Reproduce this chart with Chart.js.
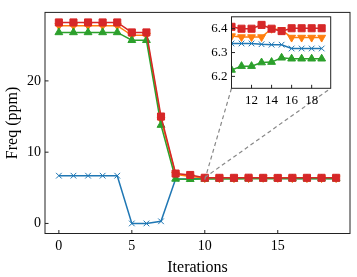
<!DOCTYPE html>
<html>
<head>
<meta charset="utf-8">
<script src="https://cdn.jsdelivr.net/npm/chart.js@4.4.1/dist/chart.umd.min.js"></script>
<style>
    html, body { margin: 0; padding: 0; background: #fff; }
    #wrap { position: relative; width: 357px; height: 277px; overflow: hidden; }
    #mainPlot { position: absolute; left: 0; top: 0; }
    #insetPlot { position: absolute; left: 190px; top: 5px; }
</style>
</head>
<body>
<div id="wrap">
    <canvas id="mainPlot" width="357" height="277"></canvas>
    <canvas id="insetPlot" width="150" height="105"></canvas>
</div>
<script>
// Data
var iterations = [0, 1, 2, 3, 4, 5, 6, 7, 8, 9, 10, 11, 12, 13, 14, 15, 16, 17, 18, 19];

var blueFreq   = [6.70, 6.70, 6.70, 6.70, 6.70, 0.00, 0.00, 0.30, 6.25, 6.25,
                  6.338, 6.338, 6.338, 6.335, 6.333, 6.333, 6.317, 6.317, 6.317, 6.317];
var orangeFreq = [27.75, 27.75, 27.75, 27.75, 27.75, 26.4, 26.4, 14.6, 6.9, 6.6,
                  6.369, 6.365, 6.365, 6.365, 6.400, 6.395, 6.363, 6.363, 6.363, 6.363];
var greenFreq  = [26.8, 26.8, 26.8, 26.8, 26.8, 25.7, 25.7, 13.8, 6.25, 6.2,
                  6.227, 6.243, 6.243, 6.258, 6.260, 6.278, 6.274, 6.274, 6.274, 6.274];
var redFreq    = [28.2, 28.2, 28.2, 28.2, 28.2, 26.8, 26.8, 15.0, 7.0, 6.8,
                  6.408, 6.400, 6.400, 6.416, 6.400, 6.390, 6.402, 6.402, 6.402, 6.402];

var xTicks = [0, 5, 10, 15];
var yTicks = [0, 10, 20];
var insetXTicks = [12, 14, 16, 18];
var insetYTicks = [6.2, 6.3, 6.4];

var xRange = [-0.95, 19.95];
var yRange = [-1.41, 29.61];
var insetXRange = [10, 19.9];
var insetYRange = [6.15, 6.45];

var FONT = "'Liberation Serif', 'DejaVu Serif', serif";
var INK = '#222';

function makeSeries(label, values, color, style, rotation, radius)
{
    return {
        label: label,
        data: iterations.map(function(x, i) { return {x: x, y: values[i]}; }),
        borderColor: color,
        backgroundColor: color,
        borderWidth: 1.5,
        pointStyle: style,
        pointRotation: rotation,
        pointRadius: radius,
        pointBorderWidth: 1,
        pointBackgroundColor: color,
        pointBorderColor: color,
        tension: 0
    };
}

// Chart.js paints the first dataset on top, so red goes first
function allSeries(clip)
{
    var list = [
        makeSeries('red', redFreq, '#d62728', 'rect', 0, 5),
        makeSeries('green', greenFreq, '#2ca02c', 'triangle', 0, 4.5),
        makeSeries('orange', orangeFreq, '#ff7f0e', 'triangle', 180, 4.5),
        makeSeries('blue', blueFreq, '#1f77b4', 'crossRot', 0, 4)
    ];
    list.forEach(function(d) { d.clip = clip; });
    return list;
}

function fixedTicks(values)
{
    return function(scale) {
        scale.ticks = values.map(function(v) { return {value: v}; });
    };
}

function axis(range, ticks, size, fontSize, title, fmt)
{
    return {
        type: 'linear',
        min: range[0],
        max: range[1],
        afterBuildTicks: fixedTicks(ticks),
        afterFit: function(scale) {
            if (scale.isHorizontal()) scale.height = size;
            else scale.width = size;
        },
        grid: { display: false, drawTicks: false },
        border: { display: false },
        ticks: {
            color: '#000',
            padding: 4,
            maxRotation: 0,
            autoSkip: false,
            font: { family: FONT, size: fontSize },
            callback: fmt
        },
        title: title
    };
}

// Frame and inward tick marks, matplotlib style
var framePlugin = {
    id: 'frame',
    beforeDatasetsDraw: function(chart) {
        var a = chart.chartArea;
        var ctx = chart.ctx;
        ctx.save();
        ctx.fillStyle = '#fff';
        ctx.fillRect(a.left, a.top, a.right - a.left, a.bottom - a.top);
        ctx.restore();
    },
    afterDraw: function(chart) {
        var a = chart.chartArea;
        var ctx = chart.ctx;
        var len = 3.5;
        ctx.save();
        ctx.strokeStyle = INK;
        ctx.lineWidth = 1;
        ctx.strokeRect(a.left, a.top, a.right - a.left, a.bottom - a.top);
        ctx.beginPath();
        chart.scales.x.ticks.forEach(function(t) {
            var px = chart.scales.x.getPixelForValue(t.value);
            ctx.moveTo(px, a.bottom);
            ctx.lineTo(px, a.bottom - len);
        });
        chart.scales.y.ticks.forEach(function(t) {
            var py = chart.scales.y.getPixelForValue(t.value);
            ctx.moveTo(a.left, py);
            ctx.lineTo(a.left + len, py);
        });
        ctx.stroke();
        ctx.restore();
    }
};

/// Inset
var insetCanvas = document.getElementById('insetPlot');
var insetChart = new Chart(insetCanvas, {
    type: 'line',
    data: { datasets: allSeries(0) },
    options: {
        responsive: false,
        animation: false,
        layout: { padding: { left: 0, right: 9.3, top: 10, bottom: 0 } },
        plugins: { legend: { display: false }, tooltip: { enabled: false } },
        scales: {
            x: axis(insetXRange, insetXTicks, 21.7, 13, { display: false },
                function(v) { return String(v); }),
            y: axis(insetYRange, insetYTicks, 41.5, 13, { display: false },
                function(v) { return v.toFixed(1); })
        }
    },
    plugins: [framePlugin]
});

// Dashed lines linking the zoomed region to the inset
var connectorPlugin = {
    id: 'connector',
    afterDatasetsDraw: function(chart) {
        var sx = chart.scales.x, sy = chart.scales.y;
        var ia = insetChart.chartArea;
        var ox = insetCanvas.offsetLeft, oy = insetCanvas.offsetTop;
        var x0 = sx.getPixelForValue(insetXRange[0]);
        var ctx = chart.ctx;
        ctx.save();
        ctx.strokeStyle = '#888';
        ctx.lineWidth = 1.2;
        ctx.setLineDash([4, 3]);
        ctx.beginPath();
        ctx.moveTo(x0, sy.getPixelForValue(insetYRange[0]));
        ctx.lineTo(ox + ia.left, oy + ia.bottom);
        ctx.moveTo(x0, sy.getPixelForValue(insetYRange[1]));
        ctx.lineTo(ox + ia.right, oy + ia.bottom);
        ctx.stroke();
        ctx.restore();
    }
};

/// Main plot
new Chart(document.getElementById('mainPlot'), {
    type: 'line',
    data: { datasets: allSeries(false) },
    options: {
        responsive: false,
        animation: false,
        layout: { padding: { left: 0, right: 7, top: 5, bottom: 0 } },
        plugins: { legend: { display: false }, tooltip: { enabled: false } },
        scales: {
            x: axis(xRange, xTicks, 43.5, 14,
                { display: true, text: 'Iterations', color: '#000',
                  font: { family: FONT, size: 16 }, padding: { top: 0, bottom: 0 } },
                function(v) { return String(v); }),
            y: axis(yRange, yTicks, 45, 14,
                { display: true, text: 'Freq (ppm)', color: '#000',
                  font: { family: FONT, size: 16 }, padding: { top: 3, bottom: 0 } },
                function(v) { return String(v); })
        }
    },
    plugins: [framePlugin, connectorPlugin]
});
</script>
</body>
</html>
